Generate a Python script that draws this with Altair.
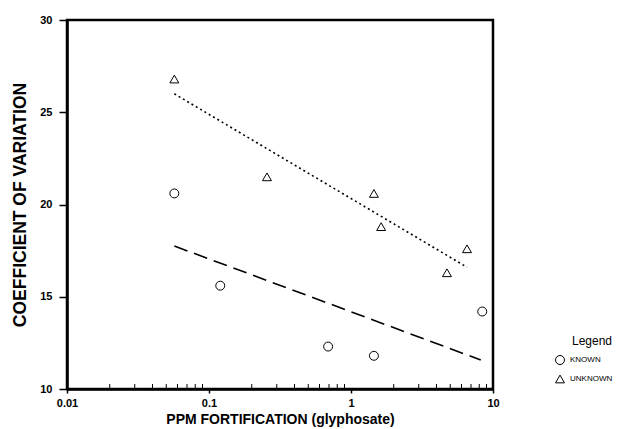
import altair as alt
import pandas as pd

# --- data ---
known_x = [0.057, 0.12, 0.69, 1.45, 8.4]
known_y = [20.6, 15.6, 12.3, 11.8, 14.2]
unknown_x = [0.057, 0.256, 1.45, 1.63, 4.74, 6.56]
unknown_y = [26.8, 21.5, 20.6, 18.8, 16.3, 17.6]

fit_known_x = [0.057, 8.2]
fit_known_y = [17.75, 11.57]
fit_unknown_x = [0.057, 6.56]
fit_unknown_y = [26.0, 16.6]

series = ["KNOWN", "UNKNOWN"]
x_ticks = [0.01, 0.1, 1, 10]
y_ticks = [10, 15, 20, 25, 30]
minor_ticks = [m * d for d in (0.01, 0.1, 1) for m in range(2, 10)]

pts = pd.DataFrame({
    "x": known_x + unknown_x,
    "y": known_y + unknown_y,
    "s": ["KNOWN"] * len(known_x) + ["UNKNOWN"] * len(unknown_x),
})
fk = pd.DataFrame({"x": fit_known_x, "y": fit_known_y})
fu = pd.DataFrame({"x": fit_unknown_x, "y": fit_unknown_y})
mt = pd.DataFrame({"x": minor_ticks})

FONT = "Liberation Sans"

xscale = alt.Scale(type="log", domain=[0.01, 10], nice=False)
yscale = alt.Scale(domain=[10, 30], nice=False, zero=False)

xenc = alt.X("x:Q", scale=xscale, axis=alt.Axis(
    values=x_ticks, format="~g", title="PPM FORTIFICATION (glyphosate)",
    grid=False, tickSize=4, tickColor="black", tickWidth=1.5,
    domainColor="black", domainWidth=2.5,
    labelFont=FONT, labelFontWeight="bold", labelFontSize=11, labelColor="black",
    labelPadding=4, labelFlush=False,
    titleFont=FONT, titleFontWeight="bold", titleFontSize=14, titleColor="black",
    titlePadding=4))
yenc = alt.Y("y:Q", scale=yscale, axis=alt.Axis(
    values=y_ticks, title="COEFFICIENT OF VARIATION",
    grid=False, tickSize=8, tickColor="black", tickWidth=1.5,
    domainColor="black", domainWidth=2.5,
    labelFont=FONT, labelFontWeight="bold", labelFontSize=11, labelColor="black",
    labelPadding=7,
    titleFont=FONT, titleFontWeight="bold", titleFontSize=17.5, titleColor="black",
    titlePadding=10))

line_k = alt.Chart(fk).mark_line(color="black", strokeWidth=1.6, strokeDash=[14, 7]).encode(
    x=xenc, y=yenc)
line_u = alt.Chart(fu).mark_line(color="black", strokeWidth=1.6, strokeDash=[2, 3]).encode(
    x=xenc, y=yenc)

minor = alt.Chart(mt).mark_rule(color="black", strokeWidth=1).encode(
    x=xenc,
    y=alt.value(364), y2=alt.value(369))

points = alt.Chart(pts).mark_point(filled=False, color="black", strokeWidth=1, size=80, opacity=1).encode(
    x=xenc, y=yenc,
    shape=alt.Shape("s:N", scale=alt.Scale(domain=series, range=["circle", "triangle-up"]),
                    legend=alt.Legend(
                        title="Legend", orient="none", legendX=488, legendY=316,
                        titleFont=FONT, titleFontSize=12, titleFontWeight="normal", titleColor="black",
                        titleAnchor="end", titlePadding=7,
                        labelFont=FONT, labelFontSize=8, labelColor="black", labelOffset=5,
                        symbolSize=80, symbolStrokeColor="black", symbolStrokeWidth=1,
                        symbolFillColor="transparent", rowPadding=6)))

chart = alt.layer(line_k, line_u, minor, points).properties(
    width=426, height=369,
    autosize=alt.AutoSizeParams(type="none"),
    padding={"left": 67, "top": 20, "right": 132, "bottom": 40},
    background="white",
).configure_view(stroke="black", strokeWidth=2.5)

chart.save("out.html", embed_options={"renderer": "svg", "actions": False})
